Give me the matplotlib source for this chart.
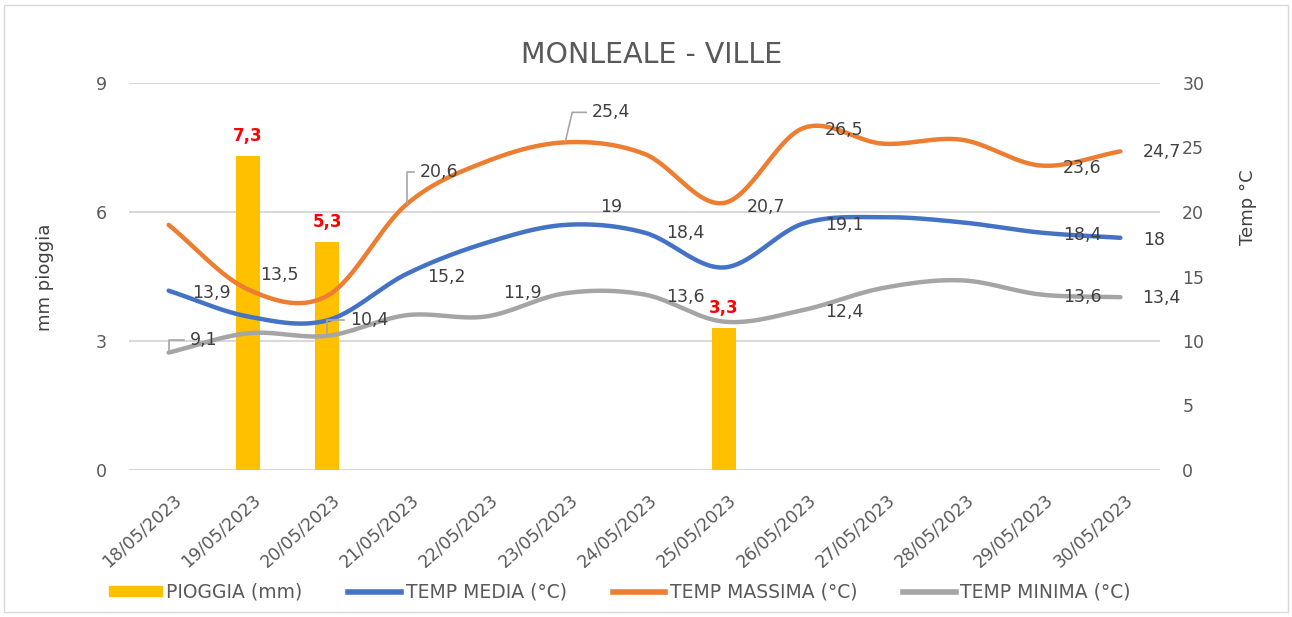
import numpy as np
import matplotlib
matplotlib.use("Agg")
import matplotlib.pyplot as plt
import matplotlib.transforms as mtransforms
from matplotlib.patches import Rectangle
from matplotlib.lines import Line2D

plt.rcParams['font.family'] = ['DejaVu Sans']

# ---- data ----
dates = ["18/05/2023", "19/05/2023", "20/05/2023", "21/05/2023", "22/05/2023",
         "23/05/2023", "24/05/2023", "25/05/2023", "26/05/2023", "27/05/2023",
         "28/05/2023", "29/05/2023", "30/05/2023"]
pioggia = [0, 7.3, 5.3, 0, 0, 0, 0, 3.3, 0, 0, 0, 0, 0]
temp_media = [13.9, 11.9, 11.6, 15.2, 17.6, 19.0, 18.4, 15.7, 19.1, 19.6, 19.2, 18.4, 18.0]
temp_massima = [19.0, 14.0, 13.5, 20.6, 23.9, 25.4, 24.5, 20.7, 26.5, 25.3, 25.6, 23.6, 24.7]
temp_minima = [9.1, 10.6, 10.4, 12.0, 11.9, 13.7, 13.6, 11.5, 12.4, 14.1, 14.7, 13.6, 13.4]

title = "MONLEALE - VILLE"
left_label = "mm pioggia"
right_label = "Temp °C"
legend_names = ["PIOGGIA (mm)", "TEMP MEDIA (°C)", "TEMP MASSIMA (°C)", "TEMP MINIMA (°C)"]

# which points carry a data label: (series, index, offset px x, offset px y, leader)
label_spec = [
    ("media", 0, 23, -2, False),
    ("minima", 0, 21, 13, True),
    ("massima", 2, -67, 21, False),
    ("minima", 2, 23, 16, True),
    ("media", 3, 21, -3, False),
    ("massima", 3, 13, 32, True),
    ("minima", 4, 17, 23, False),
    ("massima", 5, 27, 30, True),
    ("media", 5, 35, 18, False),
    ("media", 6, 22, 0, False),
    ("minima", 6, 22, -2, False),
    ("massima", 7, 23, -4, False),
    ("massima", 8, 22, -2, False),
    ("media", 8, 22, -1, False),
    ("minima", 8, 22, -2, False),
    ("massima", 11, 22, -2, False),
    ("media", 11, 22, -2, False),
    ("minima", 11, 22, -2, False),
    ("massima", 12, 22, -1, False),
    ("media", 12, 23, -2, False),
    ("minima", 12, 22, -1, False),
]

C_BAR = "#FFC000"
C_MEDIA = "#4472C4"
C_MAX = "#ED7D31"
C_MIN = "#A5A5A5"
C_TXT = "#595959"
C_LBL = "#404040"


def smooth(y, n=30):
    """Catmull-Rom spline through the points (Excel-like smoothing)."""
    y = np.asarray(y, float)
    p = np.concatenate([[2 * y[0] - y[1]], y, [2 * y[-1] - y[-2]]])
    xs, ys = [], []
    for i in range(len(y) - 1):
        p0, p1, p2, p3 = p[i], p[i + 1], p[i + 2], p[i + 3]
        t = np.linspace(0, 1, n, endpoint=(i == len(y) - 2))
        m1 = (p2 - p0) / 2
        m2 = (p3 - p1) / 2
        h00 = 2 * t**3 - 3 * t**2 + 1
        h10 = t**3 - 2 * t**2 + t
        h01 = -2 * t**3 + 3 * t**2
        h11 = t**3 - t**2
        xs.append(i + t)
        ys.append(h00 * p1 + h10 * m1 + h01 * p2 + h11 * m2)
    return np.concatenate(xs), np.concatenate(ys)


fig = plt.figure(figsize=(12.92, 6.17), dpi=100)
ax = fig.add_axes([129 / 1292, 1 - 470 / 617, (1160 - 129) / 1292, (470 - 83) / 617])
ax2 = ax.twinx()

x = np.arange(len(dates))
ax.bar(x, pioggia, width=0.3, color=C_BAR, zorder=2)
ax.set_ylim(0, 9)
ax.set_yticks([0, 3, 6, 9])
ax.set_xlim(-0.5, len(dates) - 0.5)
ax.grid(axis='y', color='#d9d9d9', lw=1.5, zorder=0)
ax.set_axisbelow(True)
for v, val in zip(x, pioggia):
    if val > 0:
        ax.annotate(f"{val:.1f}".replace('.', ','), (v, val), xytext=(0, 20),
                    textcoords='offset pixels', ha='center', va='center',
                    color='#FF0000', fontweight='bold', fontsize=12)

series = {"media": (temp_media, C_MEDIA), "massima": (temp_massima, C_MAX),
          "minima": (temp_minima, C_MIN)}
for key in ["media", "massima", "minima"]:
    vals, col = series[key]
    sx, sy = smooth(vals)
    ax2.plot(sx, sy, color=col, lw=3.2, solid_capstyle='round', zorder=3)

ax2.set_ylim(0, 30)
ax2.set_yticks([0, 5, 10, 15, 20, 25, 30])
ax2.set_xlim(-0.5, len(dates) - 0.5)


def fmt(v):
    s = f"{v:.1f}"
    if s.endswith(".0"):
        s = s[:-2]
    return s.replace('.', ',')


for key, i, dx, dy, leader in label_spec:
    vals, col = series[key]
    ax2.annotate(fmt(vals[i]), (i, vals[i]), xytext=(dx, dy),
                 textcoords='offset pixels', ha='left', va='center',
                 color=C_LBL, fontsize=12.5, zorder=5)
    if leader:
        px, py = ax2.transData.transform((i, vals[i]))
        lx, ly = px + dx - 6, py + dy
        mx = px + 7 if (key == "massima" and i == 5) else px
        pts = np.array([[px, py], [mx, ly], [lx, ly]])
        dp = ax2.transData.inverted().transform(pts)
        ax2.plot(dp[:, 0], dp[:, 1], color='#A6A6A6', lw=1.2, zorder=4)

for a in (ax, ax2):
    for s in a.spines.values():
        s.set_visible(False)
    a.tick_params(length=0)

ax.tick_params(axis='y', labelsize=12.5, labelcolor=C_TXT, pad=16)
ax2.tick_params(axis='y', labelsize=12.5, labelcolor=C_TXT, pad=16)
ax.set_xticks(x)
ax.set_xticklabels(dates, rotation=42, ha='right', va='top', rotation_mode='anchor',
                   fontsize=12.5, color=C_TXT)
ax.tick_params(axis='x', pad=15)
shift = mtransforms.ScaledTranslation(4 / 100, 0, fig.dpi_scale_trans)
for lab in ax.get_xticklabels():
    lab.set_transform(lab.get_transform() + shift)

fig.text(652 / 1292, 1 - 55 / 617, title, ha='center', va='center',
         fontsize=20.5, color=C_TXT)
fig.text(45 / 1292, 1 - 277 / 617, left_label, rotation=90, ha='center', va='center',
         fontsize=13, color='#404040')
fig.text(1248 / 1292, 1 - 207 / 617, right_label, rotation=90, ha='center', va='center',
         fontsize=13, color='#404040')

handles = [Rectangle((0, 0), 1, 1, color=C_BAR),
           Line2D([], [], color=C_MEDIA, lw=4),
           Line2D([], [], color=C_MAX, lw=4),
           Line2D([], [], color=C_MIN, lw=4)]
fig.legend(handles, legend_names, loc='center', bbox_to_anchor=(620 / 1292, 1 - 592 / 617),
           ncol=4, frameon=False, fontsize=13.5, labelcolor=C_TXT, handlelength=2.8,
           handleheight=0.5, columnspacing=2.45, handletextpad=0.25)

fig.patches.append(Rectangle((4 / 1292, 5 / 617), 1284 / 1292, 607 / 617,
                             transform=fig.transFigure, fill=False, ec='#d9d9d9', lw=1))

fig.savefig("out.png", dpi=100)
